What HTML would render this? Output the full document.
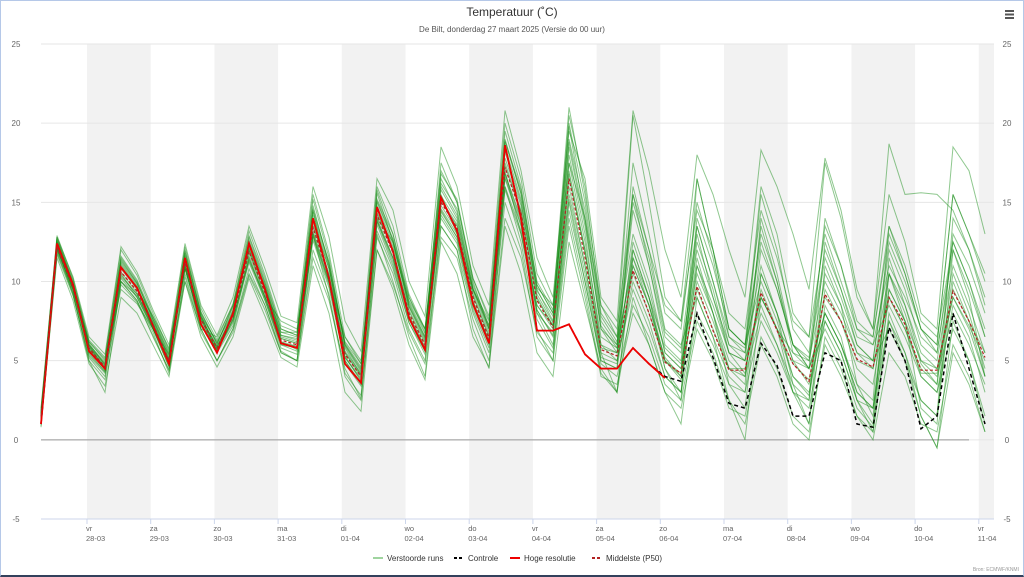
<!DOCTYPE html>
<html><head><meta charset="utf-8">
<style>
html,body{margin:0;padding:0;background:#fff;}
#wrap{position:relative;width:1022px;height:574px;border:1px solid #b5c8e8;border-bottom:2px solid #33415c;overflow:hidden;font-family:"Liberation Sans",sans-serif;}
svg text{font-family:"Liberation Sans",sans-serif;}
</style></head>
<body>
<div id="wrap">
<svg id="chart" width="1022" height="574" viewBox="0 0 1022 574">
  <text x="511" y="15" text-anchor="middle" font-size="12" fill="#333">Temperatuur (˚C)</text>
  <text x="511" y="31" text-anchor="middle" font-size="8" fill="#555">De Bilt, donderdag 27 maart 2025 (Versie do 00 uur)</text>
  <g>
    <rect x="1004" y="9" width="9" height="2" fill="#555"/><rect x="1004" y="12.5" width="9" height="2" fill="#555"/><rect x="1004" y="16" width="9" height="2" fill="#555"/>
  </g>
  <g id="bands"></g><g id="grid"></g><g id="series"></g><g id="axes"></g>
  <g id="legend"></g>
  <text x="1018" y="570" text-anchor="end" font-size="5" fill="#999">Bron: ECMWF/KNMI</text>
</svg>
</div>
<script>
const dayLabels=["vr","za","zo","ma","di","wo","do","vr","za","zo","ma","di","wo","do","vr"];
const dateLabels=["28-03","29-03","30-03","31-03","01-04","02-04","03-04","04-04","05-04","06-04","07-04","08-04","09-04","10-04","11-04"];
const yTicks=[-5,0,5,10,15,20,25];
const hres=[1.0,12.4,9.8,5.6,4.5,10.9,9.6,7.2,4.8,11.5,7.3,5.5,8.0,12.4,9.5,6.1,5.8,14.0,10.2,4.8,3.6,14.7,11.9,7.7,5.7,15.3,13.2,8.6,6.1,18.6,14.0,6.9,6.9,7.3,5.4,4.5,4.5,5.8,4.8,3.9];
const control=[1.0,12.4,9.8,5.6,4.5,10.9,9.6,7.2,4.8,11.5,7.3,5.5,8.0,12.4,9.5,6.1,5.8,14.0,10.2,4.8,3.6,14.7,11.9,7.7,5.7,15.3,13.2,8.6,6.1,18.6,14.0,6.9,6.9,7.3,5.4,4.5,4.5,5.8,4.8,4.0,3.7,8.0,5.2,2.3,2.0,6.1,4.7,1.5,1.5,5.5,5.0,1.0,0.8,7.1,5.0,0.7,1.5,8.0,4.5,1.0];
const median=[1.5,12.2,9.6,5.8,4.6,10.6,9.4,7.3,5.0,11.2,7.6,5.8,7.8,11.9,9.3,6.3,6.0,13.4,10.3,5.4,4.0,14.2,11.8,8.0,6.0,15.0,13.4,9.0,6.4,17.2,14.3,8.8,7.1,16.5,11.5,5.7,5.3,10.7,8.0,4.9,4.2,9.7,6.9,4.4,4.4,9.3,6.9,4.8,3.7,9.2,7.5,5.1,4.6,9.0,7.3,4.4,4.4,9.4,7.5,5.2];
const m1=[1.2,12.6,10.0,5.5,4.3,11.2,9.8,7.0,4.6,11.8,7.9,5.5,8.2,12.5,9.8,6.6,6.4,14.8,11.0,5.0,3.5,15.6,12.5,8.4,6.3,16.5,14.4,9.6,7.0,18.8,15.6,9.5,7.5,19.8,14.0,7.0,6.0,15.5,11.0,6.0,5.0,13.0,9.0,5.5,5.0,13.5,10.0,6.0,5.2,12.0,9.5,6.5,6.0,11.0,9.0,6.5,5.5,12.5,10.0,7.0];
const m2=[0.8,11.9,9.2,5.0,3.8,10.0,8.8,6.8,4.2,10.5,7.0,5.0,7.0,10.8,8.5,5.6,5.0,12.0,9.2,4.2,2.8,12.8,10.5,7.0,5.0,13.5,12.0,8.0,5.5,15.0,12.0,6.5,5.0,13.5,9.0,4.0,3.5,8.0,6.0,3.0,2.0,7.0,5.0,2.0,1.5,6.5,4.5,1.5,0.5,6.0,4.0,1.5,0.0,5.5,4.0,1.0,0.5,6.0,4.0,0.5];
const m3=[1.6,12.8,9.9,6.0,4.9,11.5,10.0,7.6,5.2,12.0,8.0,6.0,8.5,12.8,10.0,7.0,6.6,15.2,11.5,6.0,4.4,15.8,13.0,8.6,6.5,17.5,15.0,10.0,7.0,19.5,16.0,9.8,8.0,20.5,16.0,8.0,6.5,13.0,10.0,5.5,4.5,11.5,8.0,4.5,3.5,14.0,10.5,6.0,4.5,8.0,6.0,3.0,2.0,10.5,8.5,5.0,4.0,8.0,6.0,3.5];
const m4=[1.3,12.0,9.5,5.9,4.8,9.5,8.6,7.0,5.4,10.8,7.2,5.6,7.6,11.4,9.0,6.0,5.8,13.0,10.0,5.6,4.2,13.8,11.2,7.6,5.6,14.2,12.6,8.4,6.0,16.5,13.5,8.0,6.0,15.0,10.0,5.0,4.5,16.0,12.0,7.0,6.0,9.0,6.5,4.0,3.0,7.5,5.5,3.0,2.5,12.5,9.5,6.0,5.0,7.0,5.0,2.5,1.5,10.0,7.5,4.0];
const m5=[1.8,12.3,9.7,6.2,5.0,10.8,9.5,7.8,5.8,11.0,7.8,6.2,8.0,12.2,9.6,6.8,6.8,13.8,10.8,6.2,4.8,14.6,12.2,8.8,7.0,15.4,13.8,9.5,7.5,17.8,14.8,9.6,8.5,17.5,12.5,6.5,5.8,11.5,9.0,5.8,4.8,11.0,8.5,5.5,5.0,9.0,7.0,5.5,5.0,10.0,8.0,5.5,5.0,12.5,10.0,7.0,6.0,15.5,13.0,10.0];
const m6=[1.0,11.8,9.3,5.3,4.2,10.2,9.0,7.0,4.8,10.8,7.4,5.5,7.2,11.5,8.8,5.8,5.4,12.6,9.6,4.8,3.4,13.6,11.0,7.4,5.4,14.5,12.8,8.6,6.2,16.8,13.8,8.2,6.5,18.0,13.0,6.0,5.0,10.0,7.5,4.0,3.0,13.5,10.0,6.0,5.0,8.5,6.0,3.0,2.0,7.5,5.5,2.5,1.0,11.5,8.5,5.5,4.5,9.0,7.0,4.0];
const m7=[1.4,12.5,9.8,5.7,4.5,11.0,9.6,7.4,5.1,11.6,7.7,5.9,8.0,12.0,9.5,6.5,6.2,13.6,10.5,5.5,4.0,14.4,12.0,8.2,6.2,15.2,13.6,9.2,6.6,17.5,14.5,9.0,7.2,16.8,11.8,5.8,5.5,14.5,11.0,6.5,5.5,12.0,9.0,6.0,5.5,11.0,8.0,5.0,3.5,7.5,5.5,2.5,2.0,9.0,7.0,4.5,3.5,13.0,11.0,8.0];
const m8=[1.1,12.1,9.4,5.6,4.4,11.4,9.9,7.6,5.5,11.4,7.5,5.7,7.5,11.8,9.2,6.2,5.9,13.2,10.2,5.2,3.8,14.0,11.5,7.8,5.8,14.8,13.2,8.8,6.2,16.8,14.0,8.5,7.0,16.0,11.0,5.5,5.0,9.5,7.0,4.0,3.0,8.0,6.0,3.5,3.0,10.5,8.0,5.0,4.5,14.0,11.0,7.0,6.0,8.5,6.5,4.0,3.0,8.5,6.5,3.0];
const m9=[1.7,12.4,9.9,6.1,4.7,10.4,9.2,7.2,4.9,11.3,7.8,5.8,7.9,12.4,9.6,6.4,6.1,14.0,10.8,5.8,4.1,14.8,12.4,8.4,6.4,15.8,14.0,9.4,6.8,18.2,15.0,9.2,7.4,18.5,13.5,7.0,5.5,12.0,9.0,5.0,3.8,10.0,7.5,4.5,4.0,8.0,6.0,3.5,2.5,9.5,7.5,4.5,3.5,9.5,7.5,5.0,4.5,9.5,7.5,5.5];
const m10=[1.5,12.2,9.6,5.8,4.6,10.0,9.1,7.1,5.0,10.9,7.3,5.6,7.4,11.2,8.8,6.0,5.6,12.8,9.8,5.0,3.6,13.2,10.8,7.4,5.6,14.0,12.4,8.2,5.8,15.8,13.0,7.6,5.8,14.5,10.0,4.8,4.0,8.5,6.5,3.5,2.5,16.5,12.0,7.0,6.0,10.0,7.5,4.0,3.0,8.0,6.0,3.0,2.0,7.5,5.5,2.5,1.5,14.0,12.0,9.0];
const m11=[1.9,12.7,10.1,6.3,5.2,11.6,10.1,7.8,5.6,11.9,8.1,6.1,8.4,12.9,10.2,7.0,6.6,14.6,11.2,6.1,4.6,15.2,13.0,9.0,6.8,16.8,15.2,10.2,7.8,20.0,16.5,10.5,8.5,21.0,15.5,8.5,6.5,20.5,15.0,9.0,7.5,16.5,12.0,7.0,6.0,16.0,13.0,8.0,6.5,17.5,14.0,9.0,7.0,15.5,12.5,8.0,7.0,18.5,17.0,13.0];
const m12=[1.2,12.0,9.5,5.4,4.3,10.6,9.3,7.0,4.6,11.0,7.6,5.6,7.6,11.6,9.0,6.2,5.7,13.1,10.0,5.3,3.7,13.8,11.4,7.7,5.7,14.6,13.0,8.7,6.1,16.6,13.6,8.2,6.6,15.5,11.0,5.2,4.8,12.5,9.5,5.5,4.5,10.5,8.0,5.0,4.0,12.0,9.5,6.0,4.5,7.0,5.0,2.0,0.8,9.5,7.5,4.0,3.0,7.0,5.0,1.5];
const m13=[1.4,12.3,9.7,5.9,4.7,10.9,9.6,7.4,5.1,11.5,7.7,5.9,7.9,12.1,9.4,6.4,6.1,13.5,10.4,5.5,4.1,14.3,11.9,8.1,6.1,15.1,13.5,9.1,6.5,17.3,14.4,8.9,7.2,16.5,12.0,6.0,5.5,10.5,8.0,5.0,4.2,9.5,7.0,4.5,4.5,9.0,7.0,4.8,3.8,9.0,7.5,5.0,4.5,9.0,7.0,4.2,4.2,9.0,7.2,5.0];
const m14=[1.6,12.9,10.2,6.2,5.1,12.0,10.4,8.0,5.7,12.2,8.3,6.3,8.6,13.2,10.4,7.2,6.8,15.5,11.8,6.5,4.8,16.0,13.5,9.2,7.0,17.0,15.0,10.2,7.6,19.0,15.5,9.8,8.0,19.0,14.5,7.5,6.0,17.5,13.0,8.0,7.0,15.0,11.5,6.5,5.5,15.5,12.0,7.0,5.5,13.5,11.0,7.5,6.5,13.0,10.5,7.0,6.0,15.5,13.0,10.5];
const m15=[1.0,11.7,9.1,5.2,4.0,9.8,8.7,6.6,4.4,10.3,6.8,5.0,6.8,10.4,8.2,5.5,5.0,11.5,8.8,4.5,2.6,12.0,9.8,6.8,4.8,12.8,11.5,7.6,5.0,14.0,11.5,6.8,5.5,14.0,9.5,4.2,3.0,12.0,9.0,4.5,2.5,7.5,5.5,2.5,1.0,6.0,4.0,1.0,0.0,6.5,4.5,1.5,0.5,7.5,5.0,1.5,-0.5,5.5,3.5,0.5];
const m16=[1.5,12.2,9.6,5.8,4.6,11.1,9.7,7.5,5.3,11.2,7.6,5.8,7.8,12.3,9.7,6.6,6.3,14.2,11.0,5.9,4.3,15.0,12.6,8.5,6.5,16.0,14.2,9.5,7.0,18.5,15.2,9.4,7.8,18.8,13.8,7.2,5.8,15.0,11.5,6.8,5.8,13.5,10.0,6.5,5.8,12.5,9.5,6.0,5.0,11.5,9.0,6.0,5.0,12.0,9.5,6.0,5.0,11.0,8.5,5.5];
const m17=[1.3,12.1,9.5,5.7,4.5,10.3,9.2,7.3,5.0,10.8,7.3,5.7,7.7,11.3,9.0,6.1,5.9,12.9,9.9,5.2,3.9,13.9,11.5,7.9,5.9,14.4,12.8,8.6,6.3,16.0,13.2,8.0,6.8,15.2,10.5,5.0,4.5,11.0,8.5,5.2,4.0,12.5,9.5,5.5,4.2,9.5,7.0,4.0,2.8,10.5,8.5,5.5,4.5,10.5,8.0,4.8,3.5,10.5,8.0,4.5];
const m18=[1.7,12.6,9.9,6.0,4.8,11.3,9.9,7.7,5.4,11.7,8.0,6.1,8.2,12.6,9.9,6.8,6.5,14.4,11.2,6.0,4.5,15.1,12.7,8.7,6.7,16.2,14.6,9.8,7.2,18.9,15.8,10.0,8.2,20.0,15.0,7.8,6.2,11.0,8.5,5.0,4.0,14.0,11.0,7.0,6.0,13.0,10.0,5.5,4.5,8.0,6.0,3.5,2.5,13.5,11.0,7.5,6.5,12.5,10.0,6.5];
const m19=[0.9,11.5,8.8,4.8,3.4,9.0,8.0,6.0,4.0,10.0,6.5,4.6,6.5,10.2,7.8,5.2,4.6,11.0,8.0,3.0,1.8,12.0,9.5,6.0,3.8,12.5,10.5,6.5,4.6,13.5,10.5,5.5,4.0,12.5,8.5,4.5,3.0,11.5,8.5,4.5,3.0,11.0,8.0,3.5,2.0,10.5,8.0,3.5,1.0,11.0,8.5,3.5,1.5,10.5,7.5,2.0,1.0,12.0,9.0,4.0];
const m20=[2.0,12.8,10.3,6.5,5.4,12.2,10.6,8.2,6.0,12.4,8.5,6.6,9.0,13.5,10.8,7.8,7.4,16.0,12.8,7.5,5.6,16.5,14.5,10.0,7.8,18.5,16.0,11.0,8.5,20.8,17.0,11.5,9.0,19.5,16.5,9.0,7.5,20.8,17.0,12.0,9.0,18.0,15.5,12.0,9.0,18.3,16.0,13.0,9.5,17.8,14.5,9.5,7.0,18.7,15.5,15.6,15.5,14.5,12.0,8.5];
const m21=[1.3,12.2,9.2,5.0,3.0,10.0,8.8,6.5,4.4,10.0,7.0,5.0,7.0,10.5,8.5,5.5,5.0,13.0,9.0,4.0,2.5,13.0,10.0,6.5,4.0,13.5,12.0,7.0,4.5,16.0,12.5,7.0,5.0,17.0,12.0,5.5,3.0,9.0,6.0,3.0,1.0,9.0,6.5,2.5,0.0,9.0,7.0,3.0,1.0,8.5,6.5,2.5,0.5,8.0,5.5,1.5,-0.5,7.5,5.0,1.0];
const m22=[1.6,12.5,9.8,6.0,4.4,10.5,9.0,7.0,5.0,11.0,7.0,6.5,8.5,12.0,9.0,7.5,7.0,14.5,10.0,6.5,5.0,14.0,12.5,9.0,7.0,15.5,13.0,9.5,7.2,17.0,13.0,8.5,7.2,17.5,14.0,8.5,7.0,15.5,12.0,8.5,7.5,14.5,12.0,8.0,7.0,14.5,11.5,7.5,6.5,13.0,10.0,7.0,6.5,13.5,10.5,7.0,5.5,12.0,9.5,6.5];
const members=[m1,m2,m3,m4,m5,m6,m7,m8,m9,m10,m11,m12,m13,m14,m15,m16,m17,m18,m19,m20,m21,m22];

const NS="http://www.w3.org/2000/svg";
const PL=40,PR=993,PT=43,PB=518,YMIN=-5,YMAX=25;
function yS(v){return PB-(v-YMIN)/(YMAX-YMIN)*(PB-PT);}
function xS(i){return PL+i*16;}
function dayX(k){return 86+k*63.7;}
function mk(tag,attrs,parent){const e=document.createElementNS(NS,tag);for(const k in attrs)e.setAttribute(k,attrs[k]);parent.appendChild(e);return e;}
const bands=document.getElementById('bands'),grid=document.getElementById('grid'),series=document.getElementById('series'),axes=document.getElementById('axes'),legend=document.getElementById('legend');

for(let k=0;k<dayLabels.length;k+=2){
  const x0=dayX(k),x1=Math.min(dayX(k+1),PR);
  const r=mk('rect',{x:x0,y:PT,width:x1-x0,height:PB-PT,fill:'#f2f2f2'},bands);
  
  
}
yTicks.forEach(v=>{
  const y=yS(v);
  const l=mk('line',{x1:PL,x2:PR,y1:y,y2:y,stroke:v===-5?'#ccd6eb':'#e6e6e6','stroke-width':1},grid);
  
  
  const t1=mk('text',{x:15,y:y+3,'text-anchor':'middle','font-size':8,fill:'#666'},axes);t1.textContent=v;
  
  
  const t2=mk('text',{x:1006,y:y+3,'text-anchor':'middle','font-size':8,fill:'#666'},axes);t2.textContent=v;
  
  
});
const zl=mk('line',{x1:PL,x2:968,y1:yS(0),y2:yS(0),stroke:'#999','stroke-width':1},grid);



dayLabels.forEach((d,k)=>{
  const x=dayX(k);
  const tk=mk('line',{x1:x,x2:x,y1:PB,y2:PB+5,stroke:'#ccd6eb'},axes);
  
  
  const t=mk('text',{x:x-1,y:530,'font-size':7.5,fill:'#666'},axes);t.textContent=d;
  
  
  const t2=mk('text',{x:x-1,y:540,'font-size':7.5,fill:'#666'},axes);t2.textContent=dateLabels[k];
  
  
});

function pts(arr){return arr.map((v,i)=>xS(i).toFixed(1)+','+yS(v).toFixed(1)).join(' ');}
members.forEach(m=>{
  const p=mk('polyline',{points:pts(m),fill:'none',stroke:'rgba(20,140,20,0.48)','stroke-width':1},series);
  
  
});
const cl=mk('polyline',{points:pts(control),fill:'none',stroke:'#000','stroke-width':1.5,'stroke-dasharray':'4,3'},series);


const hl=mk('polyline',{points:pts(hres),fill:'none',stroke:'#ee0000','stroke-width':1.8},series);


const ml=mk('polyline',{points:pts(median),fill:'none',stroke:'#b22222','stroke-width':1.2,'stroke-dasharray':'3,2'},series);



const leg=[["Verstoorde runs","#9fd49f",""],["Controle","#000","3,2"],["Hoge resolutie","#ee0000",""],["Middelste (P50)","#b22222","3,2"]];
const legX=[372,453,509,591];
leg.forEach((l,i)=>{
  const g=mk('g',{},legend);
  
  
  mk('line',{x1:legX[i],x2:legX[i]+10,y1:557,y2:557,stroke:l[1],'stroke-width':2,'stroke-dasharray':l[2]},g);
  const t=mk('text',{x:legX[i]+14,y:560,'font-size':8,fill:'#333'},g);t.textContent=l[0];
});
</script>
</body></html>
